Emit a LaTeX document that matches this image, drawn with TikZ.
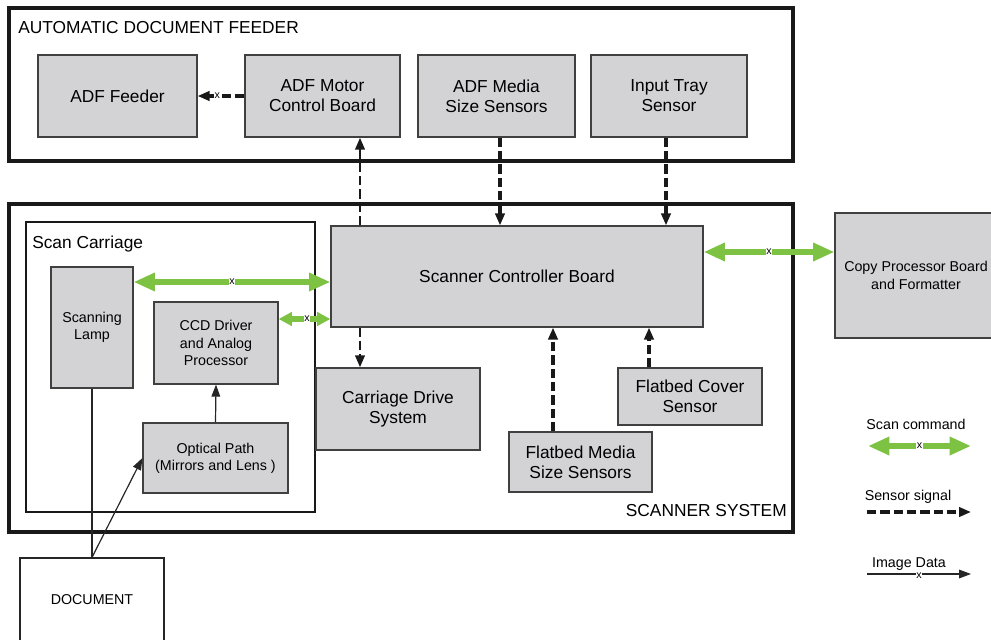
\documentclass[tikz,border=0pt]{standalone}
\usepackage{fontspec}
\setmainfont{Liberation Sans}
\usepackage{tikz}
\usetikzlibrary{arrows.meta}
\definecolor{boxgray}{RGB}{211,211,213}
\definecolor{cmdgreen}{RGB}{125,194,66}
\newcommand{\bigtxt}{\fontsize{13}{15}\selectfont}
\newcommand{\smalltxt}{\fontsize{10.7}{13}\selectfont}
\newcommand{\tinytxt}{\fontsize{8}{8}\selectfont}

\begin{document}
\begin{tikzpicture}[x=0.75pt, y=-0.75pt,
  box/.style={draw=black!75, line width=0.9pt, fill=boxgray, align=center, inner sep=0pt, font=\bigtxt},
  smallbox/.style={box, font=\smalltxt},
  plainbox/.style={draw=black!85, line width=0.9pt, align=center, inner sep=0pt, font=\smalltxt},
  frame/.style={draw=black!90, line width=2.4pt},
  title/.style={inner sep=0pt, font=\bigtxt},
  sensor/.style={draw=black!90, line width=2.6pt, dash pattern=on 7pt off 3pt, -{Triangle[length=9pt,width=7pt]}},
  cmd/.style={draw=cmdgreen, line width=5.2pt, {Triangle[length=16pt,width=13pt]}-{Triangle[length=16pt,width=13pt]}},
  data/.style={draw=black!85, line width=0.9pt, -{Triangle[length=9pt,width=6.5pt]}},
  xmark/.style={fill=white, inner sep=0.5pt, font=\tinytxt}]

\useasboundingbox (0,0) rectangle (991,639);

\draw[frame] (9,8) rectangle (793,161);
\node[title, anchor=base west] (adftitle) at (18,33) {AUTOMATIC DOCUMENT FEEDER};

\node[box, minimum width=119.25pt, minimum height=61.5pt] (feeder) at (117.5,96) {ADF Feeder};
\node[box, minimum width=116.25pt, minimum height=61.5pt] (motor) at (322.5,96) {ADF Motor\\Control Board};
\node[box, minimum width=117.75pt, minimum height=61.5pt] (media) at (496.5,96) {ADF Media\\Size Sensors};
\node[box, minimum width=117pt, minimum height=61.5pt] (tray) at (669,96) {Input Tray\\Sensor};

\draw[frame] (9,204) rectangle (793,532);
\node[title, anchor=base east] (scantitle) at (787,516) {SCANNER SYSTEM};

\draw[draw=black!90, line width=0.9pt] (26,222) rectangle (315,512);
\node[title, anchor=base west] (carrtitle) at (32,248) {Scan Carriage};

\node[box, minimum width=279pt, minimum height=75.75pt] (ctrl) at (517,276.5) {Scanner Controller Board};
\node[smallbox, minimum width=121.5pt, minimum height=93.75pt] (copy) at (916,275.5) {Copy Processor Board\\and Formatter};
\node[smallbox, minimum width=61.5pt, minimum height=90.75pt] (lamp) at (92,327.5) {Scanning\\Lamp};
\node[smallbox, minimum width=93pt, minimum height=61.5pt] (ccd) at (216,343) {CCD Driver\\and Analog\\Processor};
\node[smallbox, minimum width=108.75pt, minimum height=52.5pt] (optical) at (215.5,458) {Optical Path\\(Mirrors and Lens )};
\node[box, minimum width=123pt, minimum height=61.5pt] (drive) at (398,409) {Carriage Drive\\System};
\node[box, minimum width=107.25pt, minimum height=45pt] (fbmedia) at (580.5,462) {Flatbed Media\\Size Sensors};
\node[box, minimum width=108pt, minimum height=42.75pt] (fbcover) at (690,396.5) {Flatbed Cover\\Sensor};
\node[plainbox, minimum width=108pt, minimum height=63pt] (document) at (92,600) {DOCUMENT};

\coordinate (colA) at (360,0);
\coordinate (colB) at (500,0);
\coordinate (colC) at (666,0);
\coordinate (colD) at (553,0);
\coordinate (colE) at (649,0);
\coordinate (rowA) at (0,252);
\coordinate (rowB) at (0,282);
\coordinate (rowC) at (0,319);

\draw[sensor] (motor.west) -- node[xmark, pos=0.58] {x} (feeder.east);
\draw[sensor, line width=2pt] (ctrl.north -| colA) -- (motor.south -| colA);
\draw[sensor] (media.south -| colB) -- (ctrl.north -| colB);
\draw[sensor] (tray.south -| colC) -- (ctrl.north -| colC);
\draw[sensor, line width=2pt] (ctrl.south -| colA) -- (drive.north -| colA);
\draw[sensor] (fbmedia.north -| colD) -- (ctrl.south -| colD);
\draw[sensor] (fbcover.north -| colE) -- (ctrl.south -| colE);

\draw[cmd] (ctrl.east |- rowA) -- node[xmark] {x} (copy.west |- rowA);
\draw[cmd] (lamp.east |- rowB) -- node[xmark] {x} (ctrl.west |- rowB);
\draw[cmd, line width=4pt, {Triangle[length=10pt,width=10pt]}-{Triangle[length=10pt,width=10pt]}] (ccd.east |- rowC) -- node[xmark, pos=0.55] {x} (ctrl.west |- rowC);

\draw[data] (optical.north) -- (ccd.south);
\draw[data] (document.north) -- (optical.west);
\draw[draw=black!85, line width=0.9pt] (lamp.south) -- (document.north);

\node[inner sep=0pt, font=\smalltxt, anchor=base] (cmdtxt) at (916,429) {Scan command};
\coordinate (cmdA) at (868,446);
\coordinate (cmdB) at (971,446);
\draw[cmd] (cmdA) -- node[xmark] {x} (cmdB);

\node[inner sep=0pt, font=\smalltxt, anchor=base] (sensortxt) at (908,500) {Sensor signal};
\coordinate (sensorA) at (867,512);
\coordinate (sensorB) at (971,512);
\draw[sensor] (sensorA) -- (sensorB);

\node[inner sep=0pt, font=\smalltxt, anchor=base] (datatxt) at (909,567) {Image Data};
\coordinate (dataA) at (867,574);
\coordinate (dataB) at (971,574);
\draw[data] (dataA) -- node[xmark, yshift=-1.5pt] {x} (dataB);

\end{tikzpicture}
\end{document}
